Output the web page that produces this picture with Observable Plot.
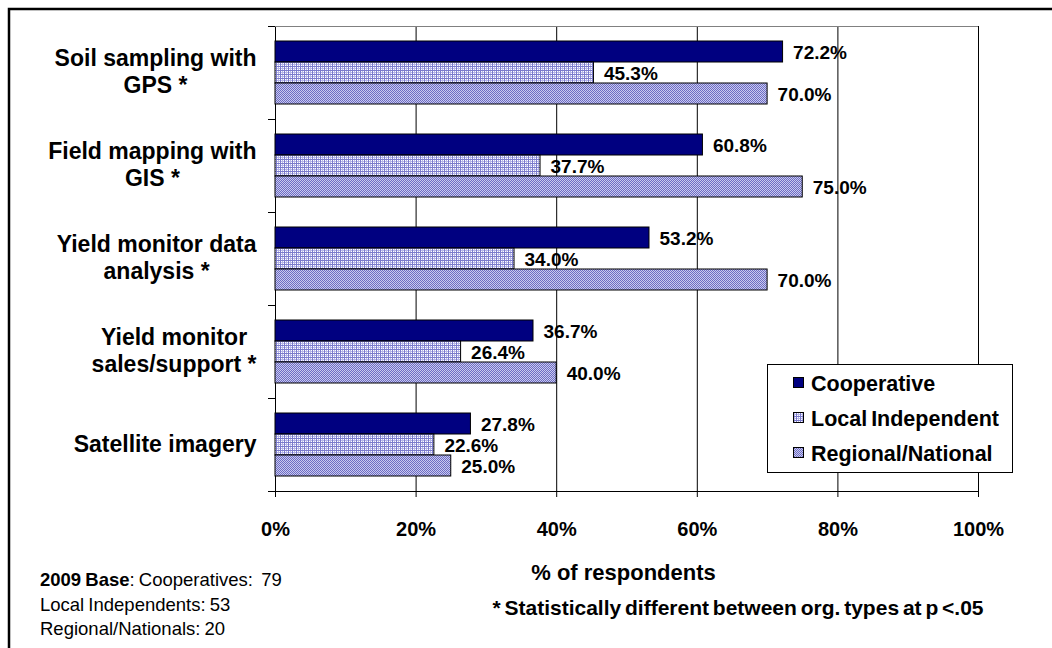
<!DOCTYPE html>
<html><head><meta charset="utf-8">
<script src="https://cdn.jsdelivr.net/npm/d3@7"></script>
<script src="https://cdn.jsdelivr.net/npm/@observablehq/plot@0.6"></script>
<style>
body{margin:0;background:#fff}
#chart{position:relative;width:1052px;height:648px;overflow:hidden}
#chart svg{overflow:visible}
</style></head><body>
<svg width="0" height="0" style="position:absolute">
<defs>
<pattern id="pat-local" patternUnits="userSpaceOnUse" width="4" height="4">
<rect width="4" height="4" fill="#ffffff"/>
<rect x="0" y="0" width="4" height="1" fill="#7b7bcc"/>
<rect x="0" y="0" width="1" height="4" fill="#7b7bcc"/>
<rect x="2" y="1" width="1" height="3" fill="#b6b6e8"/>
<rect x="1" y="2" width="3" height="1" fill="#b6b6e8"/>
</pattern>
<pattern id="pat-regional" patternUnits="userSpaceOnUse" width="2" height="2">
<rect width="2" height="2" fill="#cacaee"/>
<rect x="0" y="0" width="1" height="1" fill="#6c6cc4"/>
<rect x="1" y="1" width="1" height="1" fill="#6c6cc4"/>
</pattern>
</defs></svg>
<div id="chart"></div>
<script>
// ---- data ----
const categories = ["Soil sampling with\nGPS *", "Field mapping with\nGIS *", "Yield monitor data\nanalysis *", "Yield monitor\nsales/support *", "Satellite imagery"];
const seriesNames = ["Cooperative", "Local Independent", "Regional/National"];
const cooperative = [72.2, 60.8, 53.2, 36.7, 27.8];
const localIndependent = [45.3, 37.7, 34.0, 26.4, 22.6];
const regionalNational = [70.0, 75.0, 70.0, 40.0, 25.0];
const xTicks = [0, 20, 40, 60, 80, 100];
const axisTitle = "% of respondents";
const footnote = "* Statistically different between org. types at p <.05";
const baseTitle = "2009 Base";
const baseLines = [": Cooperatives:  79", "Local Independents: 53", "Regional/Nationals: 20"];

// ---- styles ----
const FONT = "'Liberation Sans', Arial, sans-serif";
const seriesFill = ["#000080", "url(#pat-local)", "url(#pat-regional)"];
const seriesValues = [cooperative, localIndependent, regionalNational];

const rows = categories.flatMap((c, i) => seriesNames.map((s, j) => ({category: c, series: s, value: seriesValues[j][i]})));

// measure category label widths (block right-aligned, lines centered)
const ctx = document.createElement("canvas").getContext("2d");
ctx.font = "bold 23px 'Liberation Sans'";
const labelW = categories.map(c => Math.max(...c.split("\n").map(s => ctx.measureText(s).width)));

const plot = Plot.plot({
  width: 1052,
  height: 648,
  marginLeft: 275,
  marginRight: 74,
  marginTop: 24,
  marginBottom: 155,
  style: {fontFamily: FONT, fontSize: "20px", color: "black", background: "white", overflow: "visible"},
  x: {domain: [0, 100], ticks: xTicks, tickFormat: d => d + "%"},
  y: {domain: seriesNames, axis: null, paddingInner: 0, paddingOuter: 0.7},
  fy: {domain: categories, axis: null, padding: 0},
  marks: [
    Plot.ruleX(xTicks, {stroke: "black", strokeWidth: 1}),
    ...seriesNames.map((s, j) => Plot.barX(rows.filter(r => r.series === s), {
      x: "value", y: "series", fy: "category", fill: seriesFill[j], stroke: "black", strokeWidth: 1
    })),
    Plot.text(rows, {
      x: "value", y: "series", fy: "category", text: d => d.value.toFixed(1) + "%",
      textAnchor: "start", dx: 10, dy: 1, fontSize: 19, fontWeight: "bold", fill: "black"
    }),
    ...categories.map((c, i) => Plot.text([c], {
      fy: d => d, text: d => d, frameAnchor: "left", textAnchor: "middle",
      dx: -(19 + labelW[i] / 2), dy: -2, fontSize: 23, fontWeight: "bold", lineHeight: 1.17, fill: "black"
    })),
    Plot.axisX({ticks: xTicks, tickFormat: d => d + "%", tickSize: 6, tickPadding: 24, fontSize: 20, fontWeight: "bold", stroke: "black", label: null})
  ]
});

document.getElementById("chart").appendChild(plot);

// ---- decorations using the plot's scales ----
const svg = d3.select(plot);
const x = plot.scale("x");
const fy = plot.scale("fy");
const x0 = x.apply(0), x1 = x.apply(100);
const yTop = fy.apply(categories[0]);
const yBot = fy.apply(categories[categories.length - 1]) + fy.bandwidth;

svg.selectAll("[aria-label='x-axis tick label'] text").style("font-weight", "bold").style("font-size", "20px");

const deco = svg.append("g").attr("text-anchor", "start");
// top border of plot area
deco.append("line").attr("x1", x0).attr("x2", x1).attr("y1", yTop + 0.5).attr("y2", yTop + 0.5).attr("stroke", "#808080");
// x axis line
deco.append("line").attr("x1", x0 - 7).attr("x2", x1).attr("y1", yBot + 0.5).attr("y2", yBot + 0.5).attr("stroke", "black");
// y-axis tick marks at group boundaries
const bounds = categories.map(c => fy.apply(c)).concat([yBot]);
deco.selectAll(".yt").data(bounds).join("line")
  .attr("x1", x0 - 7).attr("x2", x0).attr("y1", d => Math.round(d) + 0.5).attr("y2", d => Math.round(d) + 0.5).attr("stroke", "black");
// outer border
deco.append("rect").attr("x", 9).attr("y", 9).attr("width", 1100).attr("height", 700)
  .attr("fill", "none").attr("stroke", "black").attr("stroke-width", 2.5);

// axis title
deco.append("text").attr("x", (x0 + x1) / 2 - 3).attr("y", 580).attr("text-anchor", "middle")
  .attr("font-size", 22).attr("font-weight", "bold").attr("font-family", FONT).text(axisTitle);
// footnote
deco.append("text").attr("x", 738).attr("y", 615).attr("text-anchor", "middle")
  .attr("font-size", 21).attr("font-weight", "bold").attr("font-family", FONT).attr("word-spacing", "-2").text(footnote);
// base text
const bt = deco.append("g").attr("font-family", FONT).attr("font-size", 18.5).attr("text-anchor", "start").attr("word-spacing", "-1").style("white-space", "pre");
const t0 = bt.append("text").attr("x", 40).attr("y", 586);
t0.append("tspan").attr("font-weight", "bold").text(baseTitle);
t0.append("tspan").text(baseLines[0]);
bt.append("text").attr("x", 40).attr("y", 611).text(baseLines[1]);
bt.append("text").attr("x", 40).attr("y", 635).text(baseLines[2]);

// legend
const lg = deco.append("g").attr("font-family", FONT).attr("text-anchor", "start");
lg.append("rect").attr("x", 767.5).attr("y", 364.5).attr("width", 245).attr("height", 108).attr("fill", "white").attr("stroke", "black");
seriesNames.forEach((s, j) => {
  const cy = 383 + j * 35;
  lg.append("rect").attr("x", 793.5).attr("y", cy - 5.5).attr("width", 10).attr("height", 10)
    .attr("fill", seriesFill[j]).attr("stroke", "black");
  lg.append("text").attr("x", 811).attr("y", cy + 7.5).attr("font-size", 21.5).attr("font-weight", "bold").attr("word-spacing", "-2").text(s);
});
</script>
</body></html>
